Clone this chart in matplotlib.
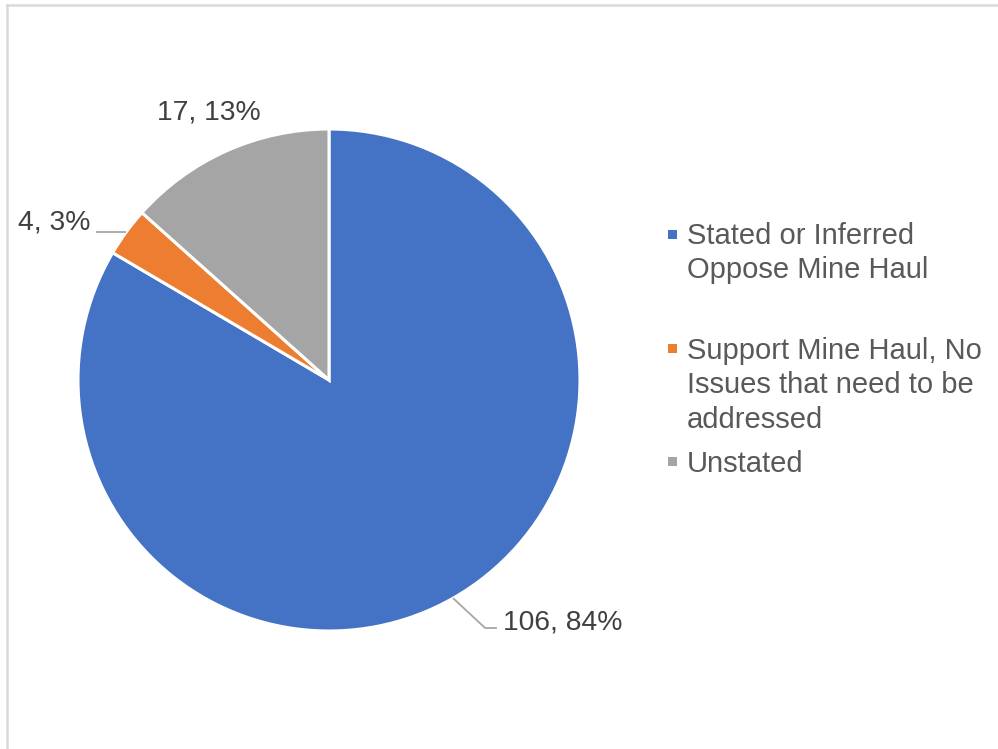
import matplotlib
matplotlib.use("Agg")
import matplotlib.pyplot as plt
from matplotlib.patches import Rectangle
from matplotlib.lines import Line2D

plt.rcParams['font.family'] = ['Liberation Sans', 'DejaVu Sans']

# Data
categories = [
    "Stated or Inferred\nOppose Mine Haul",
    "Support Mine Haul, No\nIssues that need to be\naddressed",
    "Unstated",
]
counts = [106, 4, 17]
percents = [84, 3, 13]
colors = ["#4472C4", "#ED7D31", "#A5A5A5"]

W, H = 998, 749
fig = plt.figure(figsize=(W / 100, H / 100), dpi=100)
fig.patch.set_facecolor("white")

# Pie axes: centre (329, 380) px, radius 251 px
cx, cy, r = 329, 380, 251
ax = fig.add_axes([(cx - r) / W, (H - cy - r) / H, 2 * r / W, 2 * r / H])
wedges, _ = ax.pie(counts, colors=colors, startangle=90, counterclock=False,
                   radius=1.0,
                   wedgeprops=dict(edgecolor="white", linewidth=2.2))
ax.set_xlim(-1, 1)
ax.set_ylim(-1, 1)
ax.set_aspect("equal")
ax.axis("off")

labels = [f"{c}, {p}%" for c, p in zip(counts, percents)]
lab_color = "#404040"
lead_color = "#A6A6A6"
fs = 20.3

# 106, 84% with bent leader line
ax.text(0.693, -0.996, labels[0], ha="left", va="baseline", fontsize=fs, color=lab_color)
ax.plot([0.494, 0.622, 0.669], [-0.869, -0.988, -0.988], color=lead_color, lw=1.3,
        clip_on=False, solid_capstyle="butt")

# 4, 3% with horizontal leader line
ax.text(-0.952, 0.598, labels[1], ha="right", va="baseline", fontsize=fs, color=lab_color)
ax.plot([-0.81, -0.928], [0.589, 0.589], color=lead_color, lw=1.3, clip_on=False,
        solid_capstyle="butt")

# 17, 13%
ax.text(-0.478, 1.036, labels[2], ha="center", va="baseline", fontsize=fs, color=lab_color)

# Legend drawn by hand to keep the uneven row spacing
legend_tops = [222, 337, 450]
marker_centres = [234, 348, 461]
for cat, col, ty, my in zip(categories, colors, legend_tops, marker_centres):
    s = 9
    fig.patches.append(Rectangle(((672 - s / 2) / W, (H - my - s / 2) / H), s / W, s / H,
                                 transform=fig.transFigure, facecolor=col, edgecolor="none"))
    fig.text(687 / W, (H - ty) / H, cat, ha="left", va="top", fontsize=21,
             color="#595959", linespacing=1.295)

# Chart area frame (left and top edges)
fig.lines.append(Line2D([7 / W, 7 / W], [0, 1 - 5 / H], transform=fig.transFigure,
                        color="#D9D9D9", lw=1.8))
fig.lines.append(Line2D([7 / W, 1], [1 - 5 / H, 1 - 5 / H], transform=fig.transFigure,
                        color="#D9D9D9", lw=1.8))

fig.savefig("out.png", dpi=100, facecolor="white")
